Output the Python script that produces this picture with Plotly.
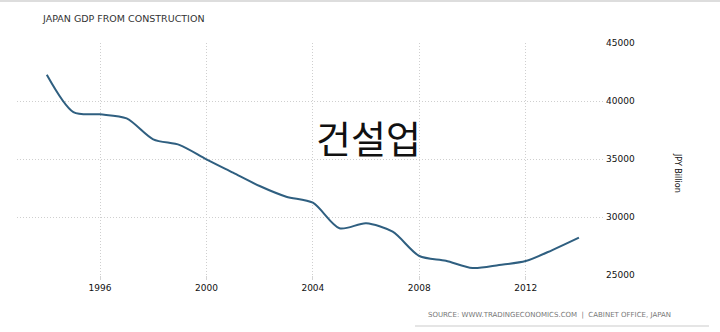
import plotly.graph_objects as go

years = list(range(1994, 2015))
gdp_construction = [42270, 39050, 38850, 38500, 36700, 36200, 34970, 33820, 32670, 31750,
                    31230, 29030, 29460, 28730, 26640, 26230, 25600, 25860, 26200, 27150, 28220]
x_ticks = [1996, 2000, 2004, 2008, 2012]
y_ticks = [25000, 30000, 35000, 40000, 45000]

title_text = "JAPAN GDP FROM CONSTRUCTION"
source_text = "SOURCE: WWW.TRADINGECONOMICS.COM  |  CABINET OFFICE, JAPAN"
unit_text = "JPY Billion"
overlay_text = "건설업"

fig = go.Figure()
fig.add_trace(go.Scatter(
    x=years, y=gdp_construction, mode="lines",
    line=dict(color="#2f5f80", width=2, shape="spline", smoothing=0.8),
    hoverinfo="x+y", showlegend=False))

grid = dict(showgrid=True, gridcolor="#cfcfcf", griddash="1px,2px", gridwidth=1, zeroline=False, showline=False)
fig.update_layout(
    width=720, height=332,
    margin=dict(l=17, r=115, t=43, b=57),
    paper_bgcolor="white", plot_bgcolor="white",
    font=dict(family="DejaVu Sans, Verdana, sans-serif", color="#222222", size=9),
    xaxis=dict(range=[1992.88, 2014.98], tickvals=x_ticks, ticktext=[str(t) for t in x_ticks],
               ticks="outside", ticklen=4, tickcolor="#d4d4d4",
               tickfont=dict(size=9, color="#111111"), **grid),
    yaxis=dict(range=[25000, 45000], side="right", tickvals=y_ticks,
               ticktext=[str(t) for t in y_ticks], tickfont=dict(size=9, color="#111111"),
               ticks="", **grid),
    annotations=[
        dict(text=title_text, xref="paper", yref="paper", x=23/588, y=1.0, yshift=25,
             xanchor="left", yanchor="middle", showarrow=False,
             font=dict(size=9.5, color="#333333", family="DejaVu Sans, Verdana, sans-serif")),
        dict(text=unit_text, xref="paper", yref="paper", x=1.0, xshift=72, y=0.44,
             xanchor="center", yanchor="middle", textangle=90, showarrow=False,
             font=dict(size=8, color="#111111", family="DejaVu Sans, Verdana, sans-serif")),
        dict(text=source_text, xref="paper", yref="paper", x=0.905, y=0, yshift=-40,
             xanchor="center", yanchor="middle", showarrow=False,
             font=dict(size=7, color="#777777", family="DejaVu Sans, Verdana, sans-serif")),
        dict(text=overlay_text, xref="x", yref="y", x=2006.1, y=36900,
             xanchor="center", yanchor="middle", showarrow=False,
             font=dict(size=38, color="#111111", family="Noto Sans CJK KR")),
    ],
)
fig.add_shape(type="line", xref="paper", yref="paper", x0=-17/588, x1=703/588,
              y0=1 + 42/232, y1=1 + 42/232, line=dict(color="#dddddd", width=2))
fig.add_shape(type="line", xref="paper", yref="paper", x0=398/588, x1=692/588,
              y0=-51/232, y1=-51/232, line=dict(color="#dddddd", width=1.5))

fig.write_html("out.html")
